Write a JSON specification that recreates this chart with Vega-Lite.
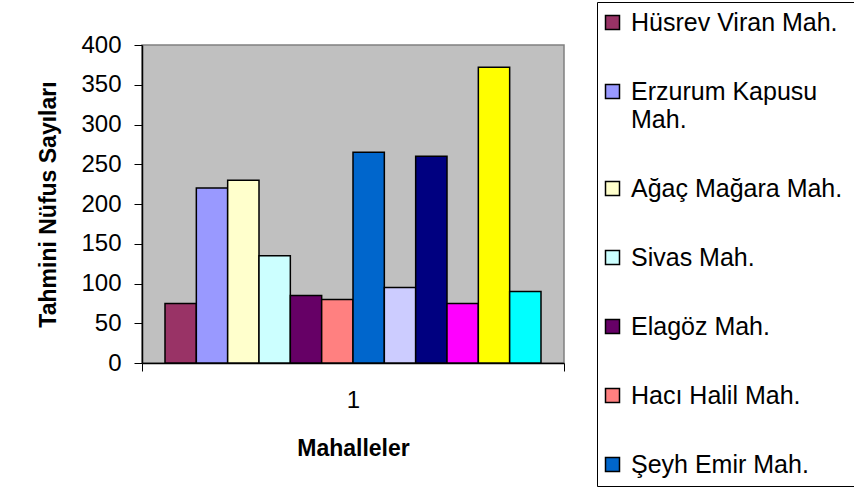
{
  "$schema": "https://vega.github.io/schema/vega-lite/v6.json",
  "autosize": {"type": "none"},
  "width": 422,
  "height": 318,
  "padding": {"left": 142, "top": 45, "right": 290, "bottom": 128},
  "background": "white",
  "data": {
    "values": [
      {"grup": "1", "mahalle": "Hüsrev Viran Mah.", "nufus": 75},
      {"grup": "1", "mahalle": "Erzurum Kapusu Mah.", "nufus": 220},
      {"grup": "1", "mahalle": "Ağaç Mağara Mah.", "nufus": 230},
      {"grup": "1", "mahalle": "Sivas Mah.", "nufus": 135},
      {"grup": "1", "mahalle": "Elagöz Mah.", "nufus": 85},
      {"grup": "1", "mahalle": "Hacı Halil Mah.", "nufus": 80},
      {"grup": "1", "mahalle": "Şeyh Emir Mah.", "nufus": 265},
      {"grup": "1", "mahalle": "Mahalle 8", "nufus": 95},
      {"grup": "1", "mahalle": "Mahalle 9", "nufus": 260},
      {"grup": "1", "mahalle": "Mahalle 10", "nufus": 75},
      {"grup": "1", "mahalle": "Mahalle 11", "nufus": 372},
      {"grup": "1", "mahalle": "Mahalle 12", "nufus": 90}
    ]
  },
  "mark": {"type": "bar", "stroke": "black", "strokeWidth": 1.5},
  "encoding": {
    "x": {
      "field": "grup",
      "type": "nominal",
      "scale": {"paddingInner": 0, "paddingOuter": 0},
      "axis": {
        "title": "Mahalleler",
        "labelAngle": 0,
        "tickBand": "extent",
        "tickSize": 8,
        "tickColor": "black",
        "domainColor": "black",
        "labelPadding": 17,
        "titlePadding": 25
      }
    },
    "xOffset": {
      "field": "mahalle",
      "type": "nominal",
      "scale": {
        "domain": ["Hüsrev Viran Mah.", "Erzurum Kapusu Mah.", "Ağaç Mağara Mah.", "Sivas Mah.", "Elagöz Mah.", "Hacı Halil Mah.", "Şeyh Emir Mah.", "Mahalle 8", "Mahalle 9", "Mahalle 10", "Mahalle 11", "Mahalle 12"],
        "paddingInner": 0,
        "paddingOuter": 0.734
      }
    },
    "y": {
      "field": "nufus",
      "type": "quantitative",
      "scale": {"domain": [0, 400], "nice": false},
      "axis": {
        "title": "Tahmini Nüfus Sayıları",
        "values": [0, 50, 100, 150, 200, 250, 300, 350, 400],
        "grid": false,
        "tickSize": 8,
        "tickColor": "black",
        "domainColor": "black",
        "labelPadding": 13,
        "titlePadding": 20
      }
    },
    "color": {
      "field": "mahalle",
      "type": "nominal",
      "scale": {
        "domain": ["Hüsrev Viran Mah.", "Erzurum Kapusu Mah.", "Ağaç Mağara Mah.", "Sivas Mah.", "Elagöz Mah.", "Hacı Halil Mah.", "Şeyh Emir Mah.", "Mahalle 8", "Mahalle 9", "Mahalle 10", "Mahalle 11", "Mahalle 12"],
        "range": ["#993366", "#9999FF", "#FFFFCC", "#CCFFFF", "#660066", "#FF8080", "#0066CC", "#CCCCFF", "#000080", "#FF00FF", "#FFFF00", "#00FFFF"]
      },
      "legend": {
        "title": " ",
        "titleOrient": "right",
        "titlePadding": 14,
        "orient": "none",
        "legendX": 455,
        "legendY": -43,
        "values": ["Hüsrev Viran Mah.", "Erzurum Kapusu Mah.", "Ağaç Mağara Mah.", "Sivas Mah.", "Elagöz Mah.", "Hacı Halil Mah.", "Şeyh Emir Mah."],
        "labelExpr": "datum.label == 'Erzurum Kapusu Mah.' ? ['Erzurum Kapusu', 'Mah.'] : datum.label",
        "encode": {
          "labels": {
            "update": {
              "lineHeight": {"value": 28}
            }
          }
        }
      }
    }
  },
  "config": {
    "font": "Liberation Sans",
    "view": {"fill": "#C0C0C0", "stroke": "#808080", "strokeWidth": 1.5},
    "axis": {
      "labelFont": "Liberation Sans",
      "labelFontSize": 24,
      "labelColor": "black",
      "titleFont": "Liberation Sans",
      "titleFontSize": 23,
      "titleFontWeight": "bold",
      "titleColor": "black",
      "domainWidth": 1.5,
      "tickWidth": 1
    },
    "legend": {
      "symbolType": "square",
      "symbolSize": 196,
      "symbolStrokeColor": "black",
      "symbolStrokeWidth": 1.5,
      "symbolOffset": -5,
      "labelFont": "Liberation Sans",
      "labelFontSize": 25,
      "labelColor": "black",
      "labelOffset": 6,
      "labelLimit": 400,
      "rowPadding": 43,
      "padding": 8,
      "strokeColor": "black",
      "fillColor": "white",
      "titleFontSize": 12
    }
  }
}
